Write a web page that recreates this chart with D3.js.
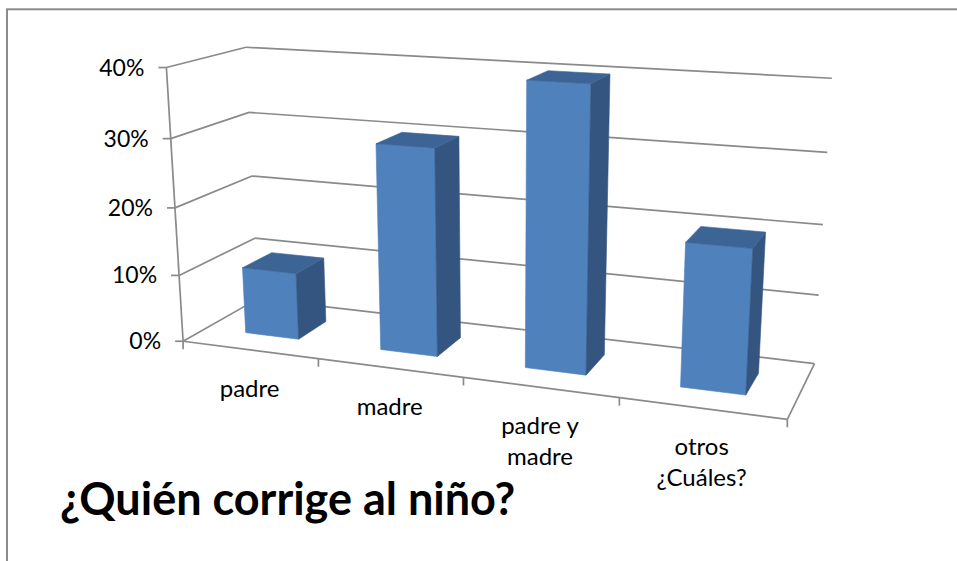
<!DOCTYPE html>
<html>
<head>
<meta charset="utf-8">
<script src="https://cdnjs.cloudflare.com/ajax/libs/d3/7.8.5/d3.min.js"></script>
<style>
  body { margin: 0; background: #fff; }
  text { font-family: Lato, "Open Sans", sans-serif; fill: #000; }
</style>
</head>
<body>
<div id="chart"></div>
<script>
var categories = ["padre", "madre", "padre y madre", "otros ¿Cuáles?"];
var values = [0.10, 0.30, 0.40, 0.20];
var yTicks = [0, 0.1, 0.2, 0.3, 0.4];
var title = "¿Quién corrige al niño?";

var width = 957, height = 561;

// calibration of the 3d plot box: [x (category units), y (share of axis), z (0 front .. 1 back), px, py]
var frame = [
  [0, 0, 0, 183.3, 341.3], [0, .25, 0, 179.3, 275], [0, .5, 0, 175, 207.7], [0, .75, 0, 170.7, 139], [0, 1, 0, 166, 68.3],
  [0, 0, 1, 257.5, 299.5], [0, .25, 1, 255, 238.3], [0, .5, 1, 252.7, 176], [0, .75, 1, 248.3, 111.7], [0, 1, 1, 246.7, 46.7],
  [4, 0, 1, 814, 363.3], [4, .25, 1, 819, 295.7], [4, .5, 1, 822.7, 224.7], [4, .75, 1, 827.3, 152.7], [4, 1, 1, 831.7, 78.3],
  [1, 0, 0, 318.3, 359.7], [2, 0, 0, 462.7, 376.6], [3, 0, 0, 619.3, 396.9], [4, 0, 0, 788.3, 419.3]
];

function solve(M, r) {
  var n = r.length;
  var a = M.map(function(row, i) { return row.concat([r[i]]); });
  for (var c = 0; c < n; ++c) {
    var piv = c;
    for (var i = c + 1; i < n; ++i) if (Math.abs(a[i][c]) > Math.abs(a[piv][c])) piv = i;
    var t = a[c]; a[c] = a[piv]; a[piv] = t;
    for (var i = c + 1; i < n; ++i) {
      var f = a[i][c] / a[c][c];
      for (var j = c; j <= n; ++j) a[i][j] -= f * a[c][j];
    }
  }
  var x = new Array(n);
  for (var i = n - 1; i >= 0; --i) {
    var s = a[i][n];
    for (var j = i + 1; j < n; ++j) s -= a[i][j] * x[j];
    x[i] = s / a[i][i];
  }
  return x;
}

// least squares fit of a 3x4 camera matrix to the frame points
var cx0 = 480, cy0 = 250, sc = 300;
var rows = [], rhs = [];
frame.forEach(function(f) {
  var X = f[0], Y = f[1], Z = f[2], u = (f[3] - cx0) / sc, v = (f[4] - cy0) / sc;
  rows.push([X, Y, Z, 1, 0, 0, 0, 0, -u * X, -u * Y, -u * Z]); rhs.push(u);
  rows.push([0, 0, 0, 0, X, Y, Z, 1, -v * X, -v * Y, -v * Z]); rhs.push(v);
});
var M = [], r = [];
for (var i = 0; i < 11; ++i) {
  M.push([]);
  var s = 0;
  for (var k = 0; k < rows.length; ++k) s += rows[k][i] * rhs[k];
  r.push(s);
  for (var j = 0; j < 11; ++j) {
    var s2 = 0;
    for (var k = 0; k < rows.length; ++k) s2 += rows[k][i] * rows[k][j];
    M[i].push(s2);
  }
}
var p = solve(M, r);

function project(pt) {
  var w = p[8] * pt[0] + p[9] * pt[1] + p[10] * pt[2] + 1;
  var u = (p[0] * pt[0] + p[1] * pt[1] + p[2] * pt[2] + p[3]) / w;
  var v = (p[4] * pt[0] + p[5] * pt[1] + p[6] * pt[2] + p[7]) / w;
  return [u * sc + cx0, v * sc + cy0];
}

// camera centre, used to pick the visible faces of each bar
var cam = solve([[p[0], p[1], p[2]], [p[4], p[5], p[6]], [p[8], p[9], p[10]]], [-p[3], -p[7], -1]);

var xCat = d3.scaleBand().domain(categories).range([0, categories.length]);
var xBar = d3.scaleBand().domain(categories).range([0, categories.length])
    .paddingInner(0.6).paddingOuter(0.3);
var y = d3.scaleLinear().domain([0, 0.4]).range([0, 1]);
var zBar = [0.3, 0.7];
var xMax = categories.length;
var fmt = d3.format(".0%");

var svg = d3.select("#chart").append("svg")
    .attr("width", width)
    .attr("height", height);

svg.append("rect")
    .attr("x", 7).attr("y", 9.3)
    .attr("width", width + 20).attr("height", height + 20)
    .attr("fill", "#fff")
    .attr("stroke", "#8c8c8c")
    .attr("stroke-width", 2);

var lineGen = d3.line();
var grid = svg.append("g")
    .attr("fill", "none")
    .attr("stroke", "#8a8a8a")
    .attr("stroke-width", 1.7);

function seg(a, b) {
  grid.append("path").attr("d", lineGen([project(a), project(b)]));
}

yTicks.forEach(function(t) {
  seg([0, y(t), 0], [0, y(t), 1]);
  seg([0, y(t), 1], [xMax, y(t), 1]);
});
seg([0, 0, 0], [xMax, 0, 0]);
seg([xMax, 0, 0], [xMax, 0, 1]);
seg([0, 0, 0], [0, y(0.4), 0]);

// tick marks
yTicks.forEach(function(t) {
  var q = project([0, y(t), 0]);
  grid.append("path").attr("d", lineGen([[q[0] - 8, q[1]], q]));
});
categories.map(function(c) { return xCat(c); }).concat([xMax]).forEach(function(X) {
  var q = project([X, 0, 0]);
  grid.append("path").attr("d", lineGen([q, [q[0], q[1] + 8]]));
});

// y labels
svg.append("g").selectAll("text")
    .data(yTicks)
  .enter().append("text")
    .attr("x", function(d) { return project([0, y(d), 0])[0] - 22; })
    .attr("y", function(d) { return project([0, y(d), 0])[1]; })
    .attr("dy", "0.35em")
    .attr("text-anchor", "end")
    .style("font-size", "23px")
    .text(fmt);

// bars
var bars = categories.map(function(c, i) {
  var x0 = xBar(c), x1 = x0 + xBar.bandwidth(), z0 = zBar[0], z1 = zBar[1], h = y(values[i]);
  var faces = [];
  if (cam[2] < z0) faces.push({ fill: "#4f81bd", pts: [[x0, 0, z0], [x1, 0, z0], [x1, h, z0], [x0, h, z0]] });
  if (cam[2] > z1) faces.push({ fill: "#4f81bd", pts: [[x0, 0, z1], [x1, 0, z1], [x1, h, z1], [x0, h, z1]] });
  if (cam[0] > x1) faces.push({ fill: "#34557f", pts: [[x1, 0, z0], [x1, 0, z1], [x1, h, z1], [x1, h, z0]] });
  if (cam[0] < x0) faces.push({ fill: "#34557f", pts: [[x0, 0, z0], [x0, 0, z1], [x0, h, z1], [x0, h, z0]] });
  if (cam[1] > h) faces.push({ fill: "#3c6595", pts: [[x0, h, z0], [x1, h, z0], [x1, h, z1], [x0, h, z1]] });
  var cx = (x0 + x1) / 2 - cam[0], cz = (z0 + z1) / 2 - cam[2];
  return { faces: faces, dist: cx * cx + cz * cz };
});
bars.sort(function(a, b) { return b.dist - a.dist; });

svg.append("g").selectAll("g")
    .data(bars)
  .enter().append("g")
  .selectAll("path")
    .data(function(d) { return d.faces; })
  .enter().append("path")
    .attr("d", function(f) { return lineGen(f.pts.map(project)) + "Z"; })
    .attr("fill", function(f) { return f.fill; })
    .attr("stroke", function(f) { return f.fill; })
    .attr("stroke-width", 0.6)
    .attr("stroke-linejoin", "round");

// category labels, wrapped
svg.append("g").selectAll("text")
    .data(categories)
  .enter().append("text")
    .attr("text-anchor", "middle")
    .style("font-size", "24px")
    .each(function(c) {
      var el = d3.select(this);
      var q = project([xCat(c) + xCat.bandwidth() / 2, 0, 0]);
      var words = c.split(" "), lines = [], cur = [];
      var probe = el.append("tspan");
      words.forEach(function(w) {
        var test = cur.concat([w]).join(" ");
        probe.text(test);
        if (cur.length && probe.node().getComputedTextLength() > 125) {
          lines.push(cur.join(" "));
          cur = [w];
        } else {
          cur.push(w);
        }
      });
      lines.push(cur.join(" "));
      probe.remove();
      lines.forEach(function(l, k) {
        el.append("tspan")
            .attr("x", q[0])
            .attr("y", q[1] + 47 + k * 31)
            .text(l);
      });
    });

svg.append("text")
    .attr("x", 60)
    .attr("y", 515)
    .style("font-size", "45px")
    .style("font-weight", "bold")
    .text(title);
</script>
</body>
</html>
